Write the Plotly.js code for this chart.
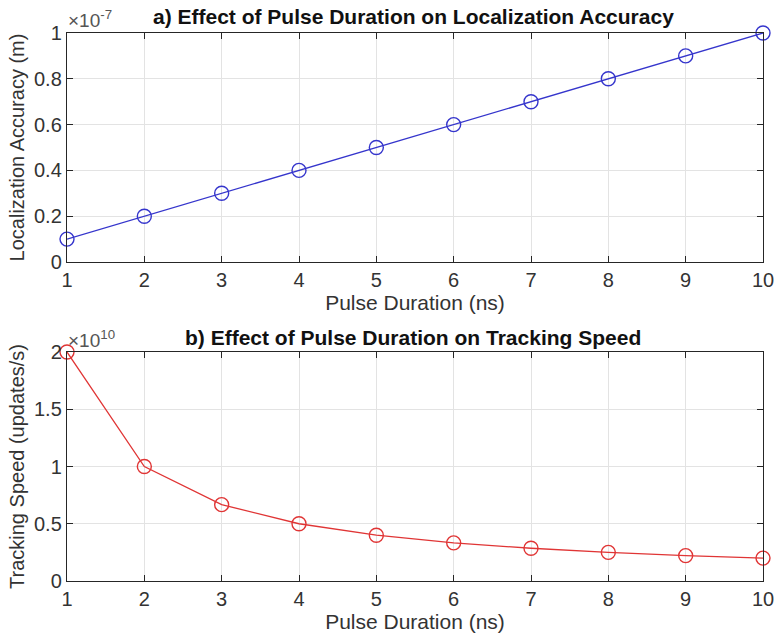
<!DOCTYPE html>
<html><head><meta charset="utf-8">
<script src="https://cdn.plot.ly/plotly-3.0.1.min.js"></script>
<style>html,body{margin:0;padding:0;background:#fff}#chart{width:774px;height:641px}</style>
</head><body><div id="chart"></div>
<script>
// Data
const pulseDuration = [1, 2, 3, 4, 5, 6, 7, 8, 9, 10];            // ns
const accuracyScaled = [0.1, 0.2, 0.3, 0.4, 0.5, 0.6, 0.7, 0.8, 0.9, 1.0]; // x 1e-7 m
const speedScaled = [2.0, 1.0, 0.667, 0.5, 0.4, 0.333, 0.286, 0.25, 0.222, 0.2]; // x 1e10 updates/s
const xTicks = [1, 2, 3, 4, 5, 6, 7, 8, 9, 10];
const yTicksTop = [0, 0.2, 0.4, 0.6, 0.8, 1];
const yTickTextTop = ['0', '0.2', '0.4', '0.6', '0.8', '1'];
const yTicksBot = [0, 0.5, 1, 1.5, 2];
const yTickTextBot = ['0', '0.5', '1', '1.5', '2'];

const H = 641, W = 774;
const FONT = 'Liberation Sans, Arial, Helvetica, sans-serif';
const axisCol = '#262626';
const tickCol = '#333333';

const traces = [
  {x: pulseDuration, y: accuracyScaled, xaxis: 'x', yaxis: 'y', mode: 'lines+markers', cliponaxis: false,
   line: {color: '#3535cc', width: 1.3},
   marker: {symbol: 'circle-open', size: 14, color: '#3535cc', line: {width: 1.4, color: '#3535cc'}}},
  {x: pulseDuration, y: speedScaled, xaxis: 'x2', yaxis: 'y2', mode: 'lines+markers', cliponaxis: false,
   line: {color: '#e03535', width: 1.3},
   marker: {symbol: 'circle-open', size: 14, color: '#e03535', line: {width: 1.4, color: '#e03535'}}}
];

function xax(anchor) {
  return {
    domain: [67 / W, 763 / W], anchor: anchor, range: [1, 10],
    tickvals: xTicks, ticktext: xTicks.map(String),
    ticks: 'inside', ticklen: 6, tickcolor: axisCol, tickwidth: 1,
    showline: true, linecolor: axisCol, linewidth: 1.2, mirror: 'ticks',
    showgrid: true, gridcolor: '#e3e3e3', gridwidth: 1, zeroline: false,
    ticklabeloverflow: 'allow',
    tickfont: {family: FONT, size: 20, color: tickCol},
    title: {text: 'Pulse Duration (ns)', font: {family: FONT, size: 21, color: tickCol}, standoff: 3},
    fixedrange: true
  };
}
function yax(anchor, dom, rng, tv, tt, title) {
  return {
    domain: dom, anchor: anchor, range: rng,
    tickvals: tv, ticktext: tt,
    ticks: 'inside', ticklen: 6, tickcolor: axisCol, tickwidth: 1,
    showline: true, linecolor: axisCol, linewidth: 1.2, mirror: 'ticks',
    showgrid: true, gridcolor: '#e3e3e3', gridwidth: 1, zeroline: false,
    ticklabeloverflow: 'allow',
    tickfont: {family: FONT, size: 20, color: tickCol},
    title: {text: title, font: {family: FONT, size: 20, color: tickCol}, standoff: 4},
    fixedrange: true
  };
}

const layout = {
  width: W, height: H,
  margin: {l: 0, r: 0, t: 0, b: 0},
  paper_bgcolor: '#fff', plot_bgcolor: '#fff',
  showlegend: false,
  xaxis: xax('y'),
  yaxis: yax('x', [(H - 262) / H, (H - 33) / H], [0, 1], yTicksTop, yTickTextTop, 'Localization Accuracy (m)'),
  xaxis2: xax('y2'),
  yaxis2: yax('x2', [(H - 581) / H, (H - 352) / H], [0, 2], yTicksBot, yTickTextBot, 'Tracking Speed (updates/s)'),
  annotations: [
    {text: '<b>a) Effect of Pulse Duration on Localization Accuracy</b>', xref: 'paper', yref: 'paper',
     x: 413 / W, y: (H - 17) / H, xanchor: 'center', yanchor: 'middle', showarrow: false,
     font: {family: FONT, size: 21, color: '#111'}},
    {text: '<b>b) Effect of Pulse Duration on Tracking Speed</b>', xref: 'paper', yref: 'paper',
     x: 413 / W, y: (H - 337) / H, xanchor: 'center', yanchor: 'middle', showarrow: false,
     font: {family: FONT, size: 21, color: '#111'}},
    {text: '×10<sup>-7</sup>', xref: 'paper', yref: 'paper',
     x: 66 / W, y: (H - 19) / H, xanchor: 'left', yanchor: 'middle', showarrow: false,
     font: {family: FONT, size: 19, color: '#555'}},
    {text: '×10<sup>10</sup>', xref: 'paper', yref: 'paper',
     x: 66 / W, y: (H - 339) / H, xanchor: 'left', yanchor: 'middle', showarrow: false,
     font: {family: FONT, size: 19, color: '#555'}}
  ]
};

Plotly.newPlot('chart', traces, layout, {displayModeBar: false, staticPlot: true});
</script>
</body></html>
